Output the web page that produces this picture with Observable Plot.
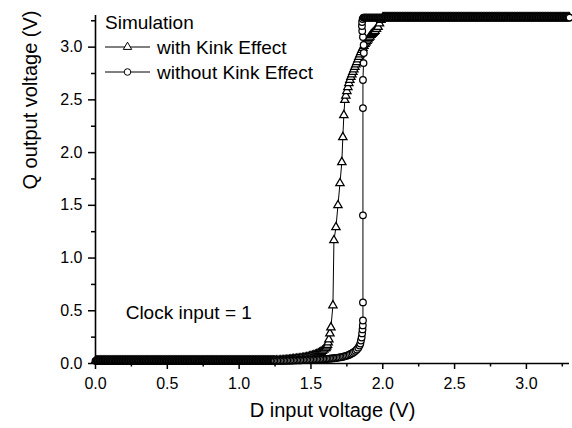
<!DOCTYPE html>
<html><head><meta charset="utf-8">
<script src="https://cdn.jsdelivr.net/npm/d3@7"></script>
<script src="https://cdn.jsdelivr.net/npm/@observablehq/plot@0.6"></script>
<style>
html,body{margin:0;padding:0;background:#fff;}
#chart{width:572px;height:428px;}
</style></head><body><div id="chart"></div>
<script>
// ---- data ----
// low (Q = 0) part of the D sweep, shared by both curves
const lowSweepX = [
  0, 0.005, 0.01, 0.015, 0.02, 0.025, 0.03, 0.035, 0.04, 0.045,
  0.05, 0.055, 0.06, 0.065, 0.07, 0.075, 0.08, 0.085, 0.09, 0.095,
  0.1, 0.105, 0.11, 0.115, 0.12, 0.125, 0.13, 0.135, 0.14, 0.145,
  0.15, 0.155, 0.16, 0.165, 0.17, 0.175, 0.18, 0.185, 0.19, 0.195,
  0.2, 0.205, 0.21, 0.215, 0.22, 0.225, 0.23, 0.235, 0.24, 0.245,
  0.25, 0.255, 0.26, 0.265, 0.27, 0.275, 0.28, 0.285, 0.29, 0.295,
  0.3, 0.305, 0.31, 0.315, 0.32, 0.325, 0.33, 0.335, 0.34, 0.345,
  0.35, 0.355, 0.36, 0.365, 0.37, 0.375, 0.38, 0.385, 0.39, 0.395,
  0.4, 0.405, 0.41, 0.415, 0.42, 0.425, 0.43, 0.435, 0.44, 0.445,
  0.45, 0.455, 0.46, 0.465, 0.47, 0.475, 0.48, 0.485, 0.49, 0.495,
  0.5, 0.505, 0.51, 0.515, 0.52, 0.525, 0.53, 0.535, 0.54, 0.545,
  0.55, 0.555, 0.56, 0.565, 0.57, 0.575, 0.58, 0.585, 0.59, 0.595,
  0.6, 0.605, 0.61, 0.615, 0.62, 0.625, 0.63, 0.635, 0.64, 0.645,
  0.65, 0.655, 0.66, 0.665, 0.67, 0.675, 0.68, 0.685, 0.69, 0.695,
  0.7, 0.705, 0.71, 0.715, 0.72, 0.725, 0.73, 0.735, 0.74, 0.745,
  0.75, 0.755, 0.76, 0.765, 0.77, 0.775, 0.78, 0.785, 0.79, 0.795,
  0.8, 0.805, 0.81, 0.815, 0.82, 0.825, 0.83, 0.835, 0.84, 0.845,
  0.85, 0.855, 0.86, 0.865, 0.87, 0.875, 0.88, 0.885, 0.89, 0.895,
  0.9, 0.905, 0.91, 0.915, 0.92, 0.925, 0.93, 0.935, 0.94, 0.945,
  0.95, 0.955, 0.96, 0.965, 0.97, 0.975, 0.98, 0.985, 0.99, 0.995,
  1, 1.005, 1.01, 1.015, 1.02, 1.025, 1.03, 1.035, 1.04, 1.045,
  1.05, 1.055, 1.06, 1.065, 1.07, 1.075, 1.08, 1.085, 1.09, 1.095,
  1.1, 1.105, 1.11, 1.115, 1.12, 1.125, 1.13, 1.135, 1.14, 1.145,
  1.15, 1.155, 1.16, 1.165, 1.17, 1.175, 1.18, 1.185, 1.19, 1.195,
  1.2, 1.205, 1.21, 1.215, 1.22, 1.225, 1.23, 1.235, 1.24, 1.245
];
const lowLevel = 0.025;
// high (Q = VDD) part of the D sweep, shared by both curves
const highSweepX = [
  2, 2.005, 2.01, 2.015, 2.02, 2.025, 2.03, 2.035, 2.04, 2.045,
  2.05, 2.055, 2.06, 2.065, 2.07, 2.075, 2.08, 2.085, 2.09, 2.095,
  2.1, 2.105, 2.11, 2.115, 2.12, 2.125, 2.13, 2.135, 2.14, 2.145,
  2.15, 2.155, 2.16, 2.165, 2.17, 2.175, 2.18, 2.185, 2.19, 2.195,
  2.2, 2.205, 2.21, 2.215, 2.22, 2.225, 2.23, 2.235, 2.24, 2.245,
  2.25, 2.255, 2.26, 2.265, 2.27, 2.275, 2.28, 2.285, 2.29, 2.295,
  2.3, 2.305, 2.31, 2.315, 2.32, 2.325, 2.33, 2.335, 2.34, 2.345,
  2.35, 2.355, 2.36, 2.365, 2.37, 2.375, 2.38, 2.385, 2.39, 2.395,
  2.4, 2.405, 2.41, 2.415, 2.42, 2.425, 2.43, 2.435, 2.44, 2.445,
  2.45, 2.455, 2.46, 2.465, 2.47, 2.475, 2.48, 2.485, 2.49, 2.495,
  2.5, 2.505, 2.51, 2.515, 2.52, 2.525, 2.53, 2.535, 2.54, 2.545,
  2.55, 2.555, 2.56, 2.565, 2.57, 2.575, 2.58, 2.585, 2.59, 2.595,
  2.6, 2.605, 2.61, 2.615, 2.62, 2.625, 2.63, 2.635, 2.64, 2.645,
  2.65, 2.655, 2.66, 2.665, 2.67, 2.675, 2.68, 2.685, 2.69, 2.695,
  2.7, 2.705, 2.71, 2.715, 2.72, 2.725, 2.73, 2.735, 2.74, 2.745,
  2.75, 2.755, 2.76, 2.765, 2.77, 2.775, 2.78, 2.785, 2.79, 2.795,
  2.8, 2.805, 2.81, 2.815, 2.82, 2.825, 2.83, 2.835, 2.84, 2.845,
  2.85, 2.855, 2.86, 2.865, 2.87, 2.875, 2.88, 2.885, 2.89, 2.895,
  2.9, 2.905, 2.91, 2.915, 2.92, 2.925, 2.93, 2.935, 2.94, 2.945,
  2.95, 2.955, 2.96, 2.965, 2.97, 2.975, 2.98, 2.985, 2.99, 2.995,
  3, 3.005, 3.01, 3.015, 3.02, 3.025, 3.03, 3.035, 3.04, 3.045,
  3.05, 3.055, 3.06, 3.065, 3.07, 3.075, 3.08, 3.085, 3.09, 3.095,
  3.1, 3.105, 3.11, 3.115, 3.12, 3.125, 3.13, 3.135, 3.14, 3.145,
  3.15, 3.155, 3.16, 3.165, 3.17, 3.175, 3.18, 3.185, 3.19, 3.195,
  3.2, 3.205, 3.21, 3.215, 3.22, 3.225, 3.23, 3.235, 3.24, 3.245,
  3.25, 3.255, 3.26, 3.265, 3.27, 3.275, 3.28, 3.285, 3.29, 3.295, 3.3
];
const highLevel = 3.28;

// with Kink Effect: transition region
const kinkTransX = [
  1.25, 1.26, 1.27, 1.28, 1.29, 1.30, 1.31, 1.32, 1.33, 1.34,
  1.35, 1.36, 1.37, 1.38, 1.39, 1.40, 1.41, 1.42, 1.43, 1.44,
  1.45, 1.46, 1.47, 1.48, 1.49, 1.50, 1.51, 1.52, 1.53, 1.54,
  1.55, 1.56, 1.57, 1.58, 1.59, 1.60,
  1.605, 1.61, 1.615, 1.62, 1.625, 1.632, 1.639,
  1.653, 1.660, 1.674, 1.688, 1.702, 1.715, 1.722, 1.729,
  1.736, 1.743, 1.750, 1.757, 1.764, 1.771, 1.778, 1.785, 1.792, 1.799,
  1.806, 1.813, 1.820, 1.827, 1.834, 1.841, 1.848, 1.855, 1.862, 1.869,
  1.876, 1.883, 1.890, 1.897, 1.904, 1.911, 1.918, 1.925, 1.932, 1.939, 1.946,
  1.956, 1.967, 1.977, 1.987
];
const kinkTransY = [
  0.026, 0.027, 0.027, 0.028, 0.029, 0.030, 0.031, 0.032, 0.033, 0.035,
  0.036, 0.038, 0.039, 0.041, 0.042, 0.044, 0.046, 0.047, 0.049, 0.051,
  0.053, 0.056, 0.059, 0.062, 0.066, 0.070, 0.074, 0.078, 0.083, 0.088,
  0.095, 0.102, 0.110, 0.120, 0.130, 0.142,
  0.150, 0.162, 0.175, 0.200, 0.228, 0.285, 0.342,
  0.551, 1.168, 1.292, 1.500, 1.709, 1.909, 2.146, 2.355,
  2.498, 2.540, 2.583, 2.621, 2.659, 2.688, 2.716, 2.740, 2.764, 2.788,
  2.811, 2.835, 2.858, 2.882, 2.906, 2.930, 2.953, 2.972, 2.991, 3.010,
  3.029, 3.044, 3.058, 3.072, 3.086, 3.100, 3.115, 3.125, 3.134, 3.144, 3.153,
  3.172, 3.191, 3.225, 3.257
];

// without Kink Effect: transition region
const noKinkTransX = [
  1.25, 1.26, 1.27, 1.28, 1.29, 1.30, 1.31, 1.32, 1.33, 1.34,
  1.35, 1.36, 1.37, 1.38, 1.39, 1.40, 1.41, 1.42, 1.43, 1.44,
  1.45, 1.46, 1.47, 1.48, 1.49, 1.50, 1.51, 1.52, 1.53, 1.54,
  1.55, 1.56, 1.57, 1.58, 1.59, 1.60, 1.61, 1.62, 1.63, 1.64,
  1.65, 1.66, 1.67, 1.68, 1.69, 1.70, 1.71, 1.72, 1.73, 1.74,
  1.75, 1.76, 1.77, 1.78, 1.79, 1.80, 1.81, 1.82, 1.83,
  1.838, 1.844, 1.848, 1.853, 1.856, 1.859, 1.861, 1.862, 1.862, 1.862,
  1.862, 1.862, 1.866, 1.868, 1.867, 1.862, 1.857, 1.855, 1.856, 1.860, 1.866
];
const noKinkTransY = [
  0.025, 0.025, 0.025, 0.025, 0.026, 0.026, 0.026, 0.027, 0.027, 0.027,
  0.028, 0.028, 0.028, 0.029, 0.029, 0.030, 0.030, 0.031, 0.031, 0.032,
  0.032, 0.033, 0.033, 0.034, 0.034, 0.035, 0.035, 0.036, 0.037, 0.037,
  0.038, 0.039, 0.040, 0.040, 0.041, 0.042, 0.043, 0.044, 0.046, 0.047,
  0.049, 0.050, 0.052, 0.054, 0.056, 0.058, 0.060, 0.063, 0.066, 0.070,
  0.074, 0.079, 0.085, 0.092, 0.100, 0.110, 0.120, 0.133, 0.150,
  0.170, 0.190, 0.218, 0.247, 0.285, 0.323, 0.361, 0.408, 0.579, 1.405,
  2.422, 2.688, 2.849, 2.944, 3.020, 3.096, 3.153, 3.200, 3.238, 3.267, 3.280
];
const noKinkTopX = [1.87, 1.875, 1.88, 1.885, 1.89, 1.895, 1.90, 1.905, 1.91, 1.915, 1.92, 1.925, 1.93, 1.935, 1.94, 1.945, 1.95, 1.955, 1.96, 1.965, 1.97, 1.975, 1.98, 1.985, 1.99, 1.995];

const majorTicks = [0, 0.5, 1.0, 1.5, 2.0, 2.5, 3.0];
const minorTicks = [0.25, 0.75, 1.25, 1.75, 2.25, 2.75, 3.25];
const axisDomain = [0, 3.3];

const xTitle = "D input voltage (V)";
const yTitle = "Q output voltage (V)";
const legendTitle = "Simulation";
const seriesNames = ["with Kink Effect", "without Kink Effect"];
const clockLabel = "Clock input = 1";
const clockPos = {x: 0.21, y: 0.48};

// ---- tables built from the arrays ----
const kink = [
  ...lowSweepX.map(x => ({x, y: lowLevel})),
  ...kinkTransX.map((x, i) => ({x, y: kinkTransY[i]})),
  ...highSweepX.map(x => ({x, y: highLevel}))
];
const noKink = [
  ...lowSweepX.map(x => ({x, y: lowLevel})),
  ...noKinkTransX.map((x, i) => ({x, y: noKinkTransY[i]})),
  ...noKinkTopX.map(x => ({x, y: highLevel})),
  ...highSweepX.map(x => ({x, y: highLevel}))
];

const FONT = "'Liberation Sans', Arial, Helvetica, sans-serif";
const triR = 3.1, circR = 3.3, markerStroke = 1.25;

function legend() {
  const g = d3.create("svg:g").attr("font-family", FONT).attr("font-size", 19)
    .attr("fill", "black").attr("text-anchor", "start");
  const x0 = 105, rows = [22, 47, 72];
  g.append("text").attr("x", x0).attr("y", rows[0]).attr("dy", "0.35em").text(legendTitle);
  const syms = [d3.symbolTriangle, d3.symbolCircle];
  const rr = [triR, circR];
  seriesNames.forEach((name, i) => {
    const y = rows[i + 1];
    g.append("line").attr("x1", x0).attr("x2", x0 + 45).attr("y1", y).attr("y2", y)
      .attr("stroke", "black").attr("stroke-width", 1);
    g.append("path").attr("transform", `translate(${x0 + 22.5},${y})`)
      .attr("d", d3.symbol(syms[i], rr[i] * rr[i] * Math.PI)())
      .attr("fill", "white").attr("stroke", "black").attr("stroke-width", 1);
    g.append("text").attr("x", x0 + 52).attr("y", y).attr("dy", "0.35em").text(name);
  });
  return g.node();
}

const chart = Plot.plot({
  width: 572,
  height: 428,
  marginLeft: 95,
  marginRight: 3,
  marginTop: 15,
  marginBottom: 65,
  style: {fontFamily: FONT, fontSize: "16px", background: "white", color: "black"},
  x: {domain: axisDomain},
  y: {domain: axisDomain},
  marks: [
    Plot.axisX({ticks: minorTicks, tickSize: 3.5, tickFormat: () => "", label: null, strokeWidth: 1.5}),
    Plot.axisY({ticks: minorTicks, tickSize: 4, tickFormat: () => "", label: null, strokeWidth: 1.5}),
    Plot.axisX({ticks: majorTicks, tickSize: 6, tickPadding: 8, tickFormat: d3.format(".1f"), label: null, strokeWidth: 1.5, fontSize: 16}),
    Plot.axisY({ticks: majorTicks, tickSize: 7, tickPadding: 6, tickFormat: d3.format(".1f"), label: null, strokeWidth: 1.5, fontSize: 16}),
    Plot.ruleX([0], {strokeWidth: 1.6}),
    Plot.ruleY([0], {strokeWidth: 1.6}),
    Plot.line(kink, {x: "x", y: "y", stroke: "black", strokeWidth: 1}),
    Plot.dot(kink, {x: "x", y: "y", symbol: "triangle", r: triR, fill: "white", stroke: "black", strokeWidth: markerStroke}),
    Plot.line(noKink, {x: "x", y: "y", stroke: "black", strokeWidth: 1}),
    Plot.dot(noKink, {x: "x", y: "y", symbol: "circle", r: circR, fill: "white", stroke: "black", strokeWidth: markerStroke}),
    Plot.text([clockLabel], {x: () => clockPos.x, y: () => clockPos.y, text: d => d, textAnchor: "start", fontSize: 19}),
    Plot.text([xTitle], {frameAnchor: "bottom", dy: 53, text: d => d, fontSize: 20}),
    Plot.text([yTitle], {frameAnchor: "left", dx: -65, rotate: -90, text: d => d, fontSize: 20}),
    legend
  ]
});
document.getElementById("chart").appendChild(chart);
</script>
</body></html>
